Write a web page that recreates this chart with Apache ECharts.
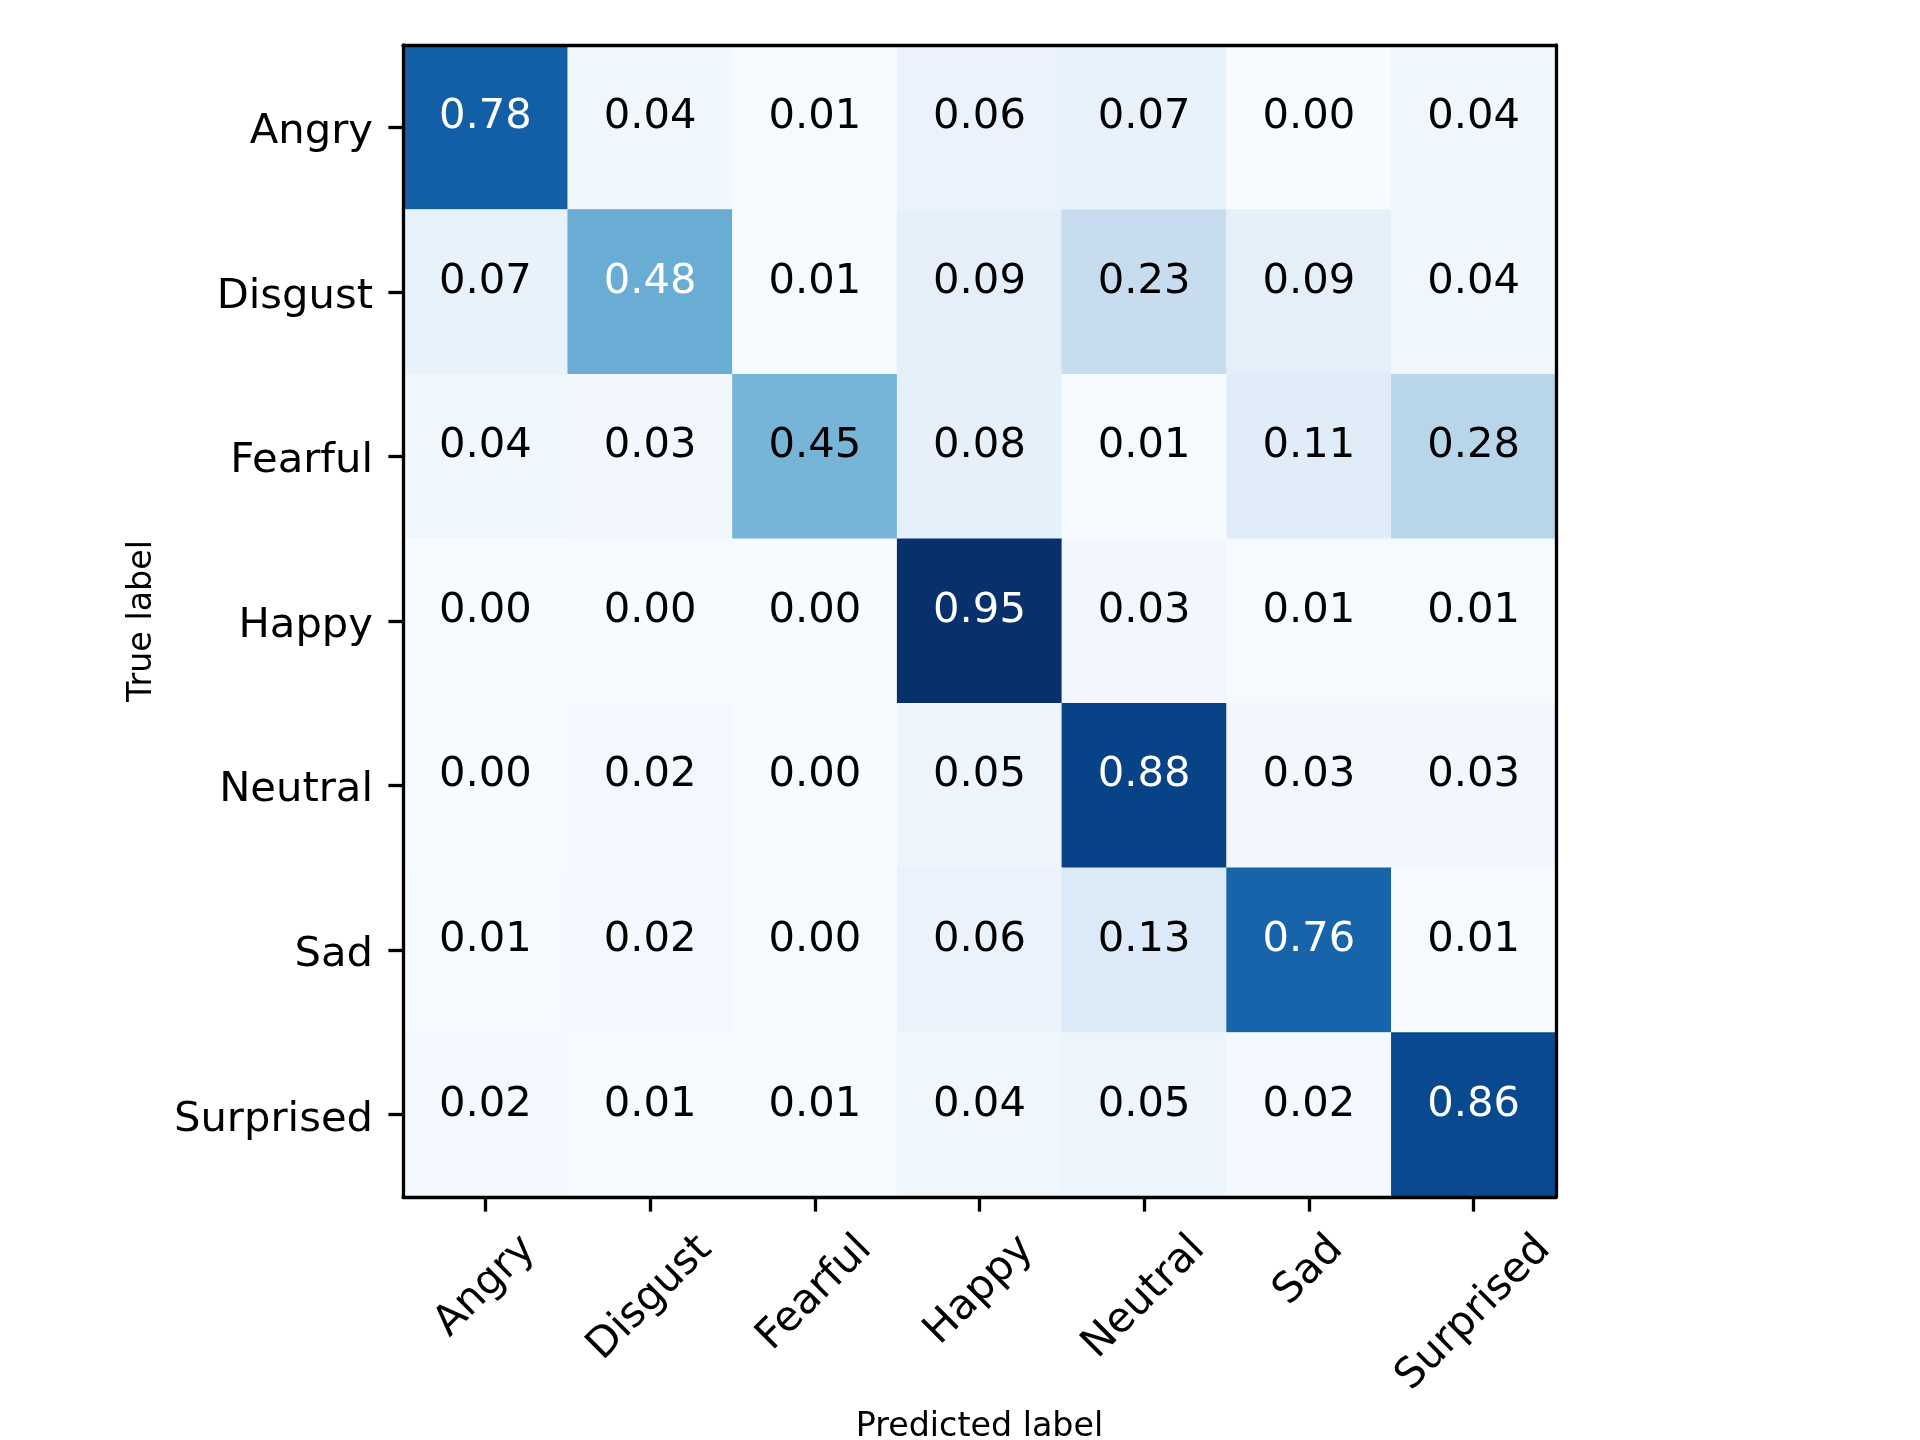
<!DOCTYPE html>
<html>
<head>
<meta charset="utf-8">
<script src="https://cdn.jsdelivr.net/npm/echarts@6/dist/echarts.min.js"></script>
<style>
html,body{margin:0;padding:0;background:#fff;}
#chart{width:1920px;height:1440px;}
</style>
</head>
<body>
<div id="chart"></div>
<script>
// ---- data ----
const classes = ['Angry', 'Disgust', 'Fearful', 'Happy', 'Neutral', 'Sad', 'Surprised'];
const rowAngry     = [0.78, 0.04, 0.01, 0.06, 0.07, 0.00, 0.04];
const rowDisgust   = [0.07, 0.48, 0.01, 0.09, 0.23, 0.09, 0.04];
const rowFearful   = [0.04, 0.03, 0.45, 0.08, 0.01, 0.11, 0.28];
const rowHappy     = [0.00, 0.00, 0.00, 0.95, 0.03, 0.01, 0.01];
const rowNeutral   = [0.00, 0.02, 0.00, 0.05, 0.88, 0.03, 0.03];
const rowSad       = [0.01, 0.02, 0.00, 0.06, 0.13, 0.76, 0.01];
const rowSurprised = [0.02, 0.01, 0.01, 0.04, 0.05, 0.02, 0.86];
const xAxisTitle = 'Predicted label';
const yAxisTitle = 'True label';

// ---- build ----
const rows = [rowAngry, rowDisgust, rowFearful, rowHappy, rowNeutral, rowSad, rowSurprised];
let vmax = 0;
rows.forEach(r => r.forEach(v => { if (v > vmax) vmax = v; }));
const thresh = vmax / 2;
const cells = [];
rows.forEach((r, yi) => r.forEach((v, xi) => {
  cells.push({ value: [xi, yi, v], label: { color: v > thresh ? '#ffffff' : '#000000' } });
}));

const FS = 41.7;
const FONT = '"DejaVu Sans", "Liberation Sans", sans-serif';
const ctx = document.createElement('canvas').getContext('2d');
ctx.font = FS + 'px "DejaVu Sans"';
// rotated labels centred under their tick (like matplotlib rotation=45, ha=center)
const K0 = 15;
const xCats = classes.map(c => {
  const w = ctx.measureText(c).width;
  const e = w / 4 + K0;
  return { value: c, textStyle: {
    align: 'center', verticalAlign: 'top', lineHeight: 2 * e,
    fontSize: FS, color: '#000', fontFamily: FONT,
    padding: [0, 2 * e, 0, 0] } };
});

const blues = ['#f7fbff', '#deebf7', '#c6dbef', '#9ecae1', '#6baed6', '#4292c6', '#2171b5', '#08519c', '#08306b'];
const LW = 3.3;

const chart = echarts.init(document.getElementById('chart'), null, { renderer: 'canvas' });
chart.setOption({
  animation: false,
  backgroundColor: '#ffffff',
  textStyle: { fontFamily: FONT },
  grid: { left: 403, top: 45, width: 1153, height: 1152, containLabel: false, outerBoundsMode: 'none' },
  visualMap: {
    show: false, type: 'continuous', min: 0, max: vmax, dimension: 2,
    inRange: { color: blues }
  },
  xAxis: [{
    type: 'category', data: xCats, position: 'bottom', z: 10,
    name: xAxisTitle, nameLocation: 'middle', nameGap: 214, nameMoveOverlap: false,
    nameTextStyle: { fontSize: 33.3, color: '#000', fontFamily: FONT, verticalAlign: 'top' },
    axisLine: { show: true, lineStyle: { color: '#000', width: LW } },
    axisTick: { show: true, alignWithLabel: true, length: 14.6, lineStyle: { color: '#000', width: LW } },
    axisLabel: { interval: 0, rotate: 45, margin: 46 - Math.SQRT2 * K0,
      fontSize: FS, color: '#000', fontFamily: FONT },
    splitLine: { show: false }
  }, {
    type: 'category', data: classes, position: 'top', z: 10,
    axisLine: { show: true, onZero: false, lineStyle: { color: '#000', width: LW } },
    axisTick: { show: false }, axisLabel: { show: false }, splitLine: { show: false }
  }],
  yAxis: [{
    type: 'category', data: classes, inverse: true, position: 'left', z: 10,
    name: yAxisTitle, nameLocation: 'middle', nameGap: 244, nameRotate: 90, nameMoveOverlap: false,
    nameTextStyle: { fontSize: 33.3, color: '#000', fontFamily: FONT },
    axisLine: { show: true, lineStyle: { color: '#000', width: LW } },
    axisTick: { show: true, alignWithLabel: true, length: 14.6, lineStyle: { color: '#000', width: LW } },
    axisLabel: { interval: 0, margin: 30, fontSize: FS, color: '#000', fontFamily: FONT,
      verticalAlign: 'top', lineHeight: 10 },
    splitLine: { show: false }
  }, {
    type: 'category', data: classes, inverse: true, position: 'right', z: 10,
    axisLine: { show: true, onZero: false, lineStyle: { color: '#000', width: LW } },
    axisTick: { show: false }, axisLabel: { show: false }, splitLine: { show: false }
  }],
  series: [{
    type: 'heatmap', xAxisIndex: 0, yAxisIndex: 0, data: cells,
    itemStyle: { borderWidth: 0 },
    label: { show: true, fontSize: FS, fontFamily: FONT, offset: [0, -10],
      formatter: p => p.value[2].toFixed(2) },
    emphasis: { disabled: true }
  }]
});
</script>
</body>
</html>
